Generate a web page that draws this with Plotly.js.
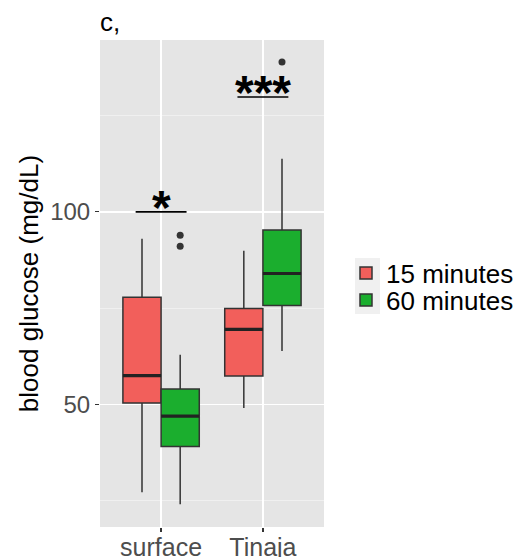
<!DOCTYPE html>
<html>
<head>
<meta charset="utf-8">
<script src="https://cdn.plot.ly/plotly-3.0.1.min.js"></script>
<style>html,body{margin:0;padding:0;background:#fff;}#chart{width:517px;height:557px;}</style>
</head>
<body>
<div id="chart"></div>
<script>
// ---- data ----
const categories = ['surface', 'Tinaja'];
const groupNames = ['15 minutes', '60 minutes'];

const q1_15  = [50.4, 57.4];
const med_15 = [57.5, 69.5];
const q3_15  = [77.8, 74.9];
const lo_15  = [27.2, 49.1];
const hi_15  = [93.0, 89.9];
const out_15 = null; // no outliers

const q1_60  = [39.1, 75.7];
const med_60 = [47.0, 84.0];
const q3_60  = [54.0, 95.3];
const lo_60  = [24.1, 63.9];
const hi_60  = [62.9, 113.8];
const out_60 = [[91.1, 93.9], [138.9]];

const sigLabels = ['*', '***'];
const sigY = [100, 129.8];

const yTicks = [50, 100];

// ---- styling ----
const FONT = 'Liberation Sans, Arial, sans-serif';
const colors = ['#F25F5B', '#1BAE2E'];
const outline = '#333333';
const boxgap = 0.25;
const nGroups = 2;
const boxW = (1 - boxgap) / nGroups;
const legendIds = ['legend', 'legend2'];
const legendRowY = [273, 300]; // px from top (centre of each legend row)

function boxTrace(name, q1, med, q3, lo, hi, pts, color, leg) {
  const t = {
    type: 'box', name: name, x: categories, legend: leg,
    q1: q1, median: med, q3: q3, lowerfence: lo, upperfence: hi,
    boxpoints: pts ? 'outliers' : false, jitter: 0, pointpos: 0,
    marker: {color: outline, size: 7, line: {width: 0}},
    fillcolor: color,
    line: {color: outline, width: 1.5},
    whiskerwidth: 0,
    hoverinfo: 'skip'
  };
  if (pts) t.y = pts;
  return t;
}

const traces = [
  boxTrace(groupNames[0], q1_15, med_15, q3_15, lo_15, hi_15, out_15, colors[0], legendIds[0]),
  boxTrace(groupNames[1], q1_60, med_60, q3_60, lo_60, hi_60, out_60, colors[1], legendIds[1])
];

const shapes = [];
// legend key background (ggplot style)
shapes.push({type: 'rect', xref: 'paper', yref: 'paper', layer: 'below',
  x0: (355 - 100) / 224, x1: (380 - 100) / 224,
  y0: (527 - 314) / 487, y1: (527 - 258) / 487,
  fillcolor: '#F0F0F0', line: {width: 0}});
// thicker median lines (ggplot style)
[med_15, med_60].forEach((meds, g) => {
  meds.forEach((m, i) => {
    const x0 = i - (1 - boxgap) / 2 + g * boxW;
    shapes.push({type: 'line', xref: 'x', yref: 'y', x0: x0, x1: x0 + boxW, y0: m, y1: m,
      line: {color: '#222222', width: 3.2}, layer: 'above'});
  });
});
// significance bars
const annotations = [];
sigLabels.forEach((lab, i) => {
  shapes.push({type: 'line', xref: 'x', yref: 'y', x0: i - 0.25, x1: i + 0.25, y0: sigY[i], y1: sigY[i],
    line: {color: '#000000', width: 1.6}, layer: 'above'});
  annotations.push({xref: 'x', yref: 'y', x: i, y: sigY[i], text: lab, showarrow: false,
    yanchor: 'bottom', yshift: -24,
    font: {family: FONT, size: 48, color: '#000000', weight: 'bold'}});
});

function legendAt(rowY) {
  return {
    xref: 'container', yref: 'container',
    x: 346 / 517, xanchor: 'left', y: 1 - rowY / 557, yanchor: 'middle',
    font: {family: FONT, size: 26, color: '#000000'},
    bgcolor: 'rgba(0,0,0,0)', borderwidth: 0
  };
}

const layout = {
  width: 517, height: 557,
  margin: {l: 100, r: 193, t: 40, b: 30},
  paper_bgcolor: '#FFFFFF',
  plot_bgcolor: '#E5E5E5',
  boxmode: 'group', boxgap: boxgap, boxgroupgap: 0,
  showlegend: true,
  title: {text: 'c,', xref: 'paper', x: 0, xanchor: 'left', yref: 'container', y: 0.96, yanchor: 'middle',
    font: {family: FONT, size: 26, color: '#000000'}},
  font: {family: FONT},
  xaxis: {
    type: 'category', range: [-0.6, 1.6],
    showgrid: true, gridcolor: '#FFFFFF', gridwidth: 1.5,
    ticks: 'outside', ticklen: 4, tickwidth: 1.2, tickcolor: '#333333',
    ticklabelstandoff: -6,
    tickfont: {family: FONT, size: 25, color: '#4D4D4D'},
    zeroline: false, showline: false, fixedrange: true
  },
  yaxis: {
    range: [18.2, 144.6],
    tickmode: 'array', tickvals: yTicks, ticktext: yTicks.map(String),
    showgrid: true, gridcolor: '#FFFFFF', gridwidth: 1.5,
    minor: {dtick: 25, tick0: 0, showgrid: true, gridcolor: '#F2F2F2', gridwidth: 0.8, ticks: ''},
    ticks: 'outside', ticklen: 4, tickwidth: 1.2, tickcolor: '#333333',
    tickfont: {family: FONT, size: 24, color: '#4D4D4D'},
    title: {text: 'blood glucose (mg/dL)', font: {family: FONT, size: 26, color: '#000000'}},
    zeroline: false, showline: false, fixedrange: true
  },
  legend: legendAt(legendRowY[0]),
  legend2: legendAt(legendRowY[1]),
  shapes: shapes,
  annotations: annotations
};

Plotly.newPlot('chart', traces, layout, {staticPlot: true, displayModeBar: false});
</script>
</body>
</html>
